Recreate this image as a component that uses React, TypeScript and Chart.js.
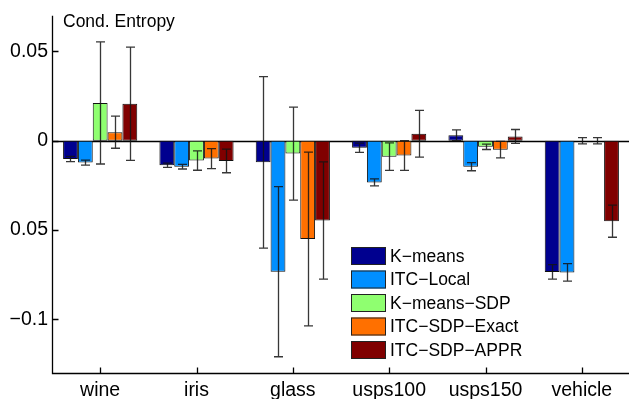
import React, { useEffect, useRef } from "react";
import { Chart, registerables } from "chart.js";

Chart.register(...registerables);

const categories = ["wine", "iris", "glass", "usps100", "usps150", "vehicle"];
const seriesNames = ["K\u2212means", "ITC\u2212Local", "K\u2212means\u2212SDP", "ITC\u2212SDP\u2212Exact", "ITC\u2212SDP\u2212APPR"];
const seriesColors = ["#00008F", "#008FFF", "#8FFF70", "#FF7000", "#800000"];

const kmeans = [-0.0102, -0.0137, -0.0121, -0.0039, 0.0031, -0.0734];
const kmeansErr = [0.0015, 0.0012, 0.048, 0.0026, 0.003, 0.0041];
const itcLocal = [-0.0122, -0.0145, -0.0733, -0.0233, -0.0145, -0.0737];
const itcLocalErr = [0.0014, 0.0013, 0.0476, 0.002, 0.0023, 0.0049];
const kmeansSdp = [0.0212, -0.0111, -0.0072, -0.0089, -0.0034, 0];
const kmeansSdpErr = [0.0342, 0.0054, 0.026, 0.0077, 0.0015, 0.0017];
const itcExact = [0.0048, -0.01, -0.055, -0.0083, -0.005, 0];
const itcExactErr = [0.009, 0.0056, 0.0486, 0.0083, 0.0046, 0.0017];
const itcAppr = [0.0207, -0.0113, -0.0446, 0.0039, 0.0024, -0.045];
const itcApprErr = [0.0317, 0.0066, 0.0328, 0.0131, 0.0039, 0.009];

const seriesValues = [kmeans, itcLocal, kmeansSdp, itcExact, itcAppr];
const seriesErrors = [kmeansErr, itcLocalErr, kmeansSdpErr, itcExactErr, itcApprErr];

const yTickValues = [0.05, 0, -0.05, -0.1];
const yTickLabels = ["0.05", "0", "0.05", "\u22120.1"];
const chartTitle = "Cond. Entropy";

const FONT = "'Liberation Sans', Arial, Helvetica, sans-serif";

const overlayPlugin = {
  id: "overlay",
  beforeDatasetsDraw(chart: any) {
    const ctx = chart.ctx;
    const area = chart.chartArea;
    const y = chart.scales.y;
    ctx.save();
    ctx.strokeStyle = "#000";
    ctx.lineWidth = 1.3;
    const y0 = Math.round(y.getPixelForValue(0)) + 0.5;
    ctx.beginPath();
    ctx.moveTo(area.left, y0);
    ctx.lineTo(chart.width, y0);
    ctx.stroke();
    ctx.restore();
  },
  afterDatasetsDraw(chart: any) {
    const ctx = chart.ctx;
    const area = chart.chartArea;
    const x = chart.scales.x;
    const y = chart.scales.y;
    ctx.save();
    // error bars
    ctx.strokeStyle = "rgba(20,20,20,0.85)";
    ctx.lineWidth = 1.3;
    chart.data.datasets.forEach((ds: any, di: number) => {
      const meta = chart.getDatasetMeta(di);
      meta.data.forEach((el: any, i: number) => {
        const v = seriesValues[di][i];
        const e = seriesErrors[di][i];
        const px = Math.round(el.x) + 0.5;
        const yt = y.getPixelForValue(v + e);
        const yb = y.getPixelForValue(v - e);
        ctx.beginPath();
        ctx.moveTo(px, yt);
        ctx.lineTo(px, yb);
        ctx.moveTo(px - 4.5, yt);
        ctx.lineTo(px + 4.5, yt);
        ctx.moveTo(px - 4.5, yb);
        ctx.lineTo(px + 4.5, yb);
        ctx.stroke();
      });
    });
    // axes
    ctx.strokeStyle = "#000";
    ctx.lineWidth = 1.3;
    const lx = Math.round(area.left) + 0.5;
    const by = Math.round(area.bottom) + 0.5;
    ctx.beginPath();
    ctx.moveTo(lx, area.top);
    ctx.lineTo(lx, by);
    ctx.lineTo(chart.width, by);
    ctx.stroke();
    ctx.beginPath();
    yTickValues.forEach((v) => {
      const py = Math.round(y.getPixelForValue(v)) + 0.5;
      ctx.moveTo(lx, py);
      ctx.lineTo(lx + 6, py);
    });
    categories.forEach((_c, i) => {
      const px = Math.round(x.getPixelForValue(i)) + 0.5;
      ctx.moveTo(px, by);
      ctx.lineTo(px, by - 6);
    });
    ctx.stroke();
    // title
    ctx.fillStyle = "#000";
    ctx.font = `17.5px ${FONT}`;
    ctx.textBaseline = "alphabetic";
    ctx.textAlign = "left";
    ctx.fillText(chartTitle, 63, 27);
    // legend
    const bx = 351;
    const rowY = [256, 279.5, 303, 326.5, 350];
    ctx.font = `17.5px ${FONT}`;
    ctx.textBaseline = "middle";
    seriesNames.forEach((name, i) => {
      const cy = rowY[i];
      ctx.fillStyle = seriesColors[i];
      ctx.fillRect(bx, cy - 9, 35, 18);
      ctx.strokeStyle = "#222";
      ctx.lineWidth = 1;
      ctx.strokeRect(bx + 0.5, cy - 9 + 0.5, 34, 17);
      ctx.fillStyle = "#000";
      ctx.fillText(name, 390, cy + 1);
    });
    ctx.restore();
  },
};

export default function App() {
  const ref = useRef<HTMLCanvasElement | null>(null);
  useEffect(() => {
    if (!ref.current) return;
    const chart = new Chart(ref.current, {
      type: "bar",
      data: {
        labels: categories,
        datasets: seriesValues.map((vals, i) => ({
          label: seriesNames[i],
          data: vals,
          backgroundColor: seriesColors[i],
          borderColor: "#111",
          borderWidth: 1,
          borderSkipped: false,
          categoryPercentage: 0.77,
          barPercentage: 1,
        })),
      },
      options: {
        responsive: false,
        animation: false,
        layout: { padding: { top: 13, left: 0, right: 0, bottom: 0 } },
        plugins: { legend: { display: false }, tooltip: { enabled: false }, title: { display: false } },
        scales: {
          x: {
            type: "category",
            offset: true,
            grid: { display: false, drawTicks: false },
            border: { display: false },
            ticks: { color: "#000", font: { family: FONT, size: 19.5 }, padding: 6, maxRotation: 0, autoSkip: false },
            afterFit: (s: any) => {
              s.height = 26;
            },
          },
          y: {
            min: -0.13,
            max: 0.07,
            grid: { display: false, drawTicks: false },
            border: { display: false },
            afterBuildTicks: (s: any) => {
              s.ticks = yTickValues.map((v) => ({ value: v }));
            },
            ticks: {
              color: "#000",
              font: { family: FONT, size: 19.5 },
              padding: 4,
              callback: (_v: any, idx: number) => yTickLabels[idx],
            },
            afterFit: (s: any) => {
              s.width = 52;
            },
          },
        },
      },
      plugins: [overlayPlugin],
    } as any);
    return () => chart.destroy();
  }, []);
  return (
    <div style={{ position: "absolute", left: 0, top: 0, width: 629, height: 399, overflow: "hidden", background: "#fff" }}>
      <canvas ref={ref} width={630} height={399} style={{ display: "block" }} />
    </div>
  );
}
